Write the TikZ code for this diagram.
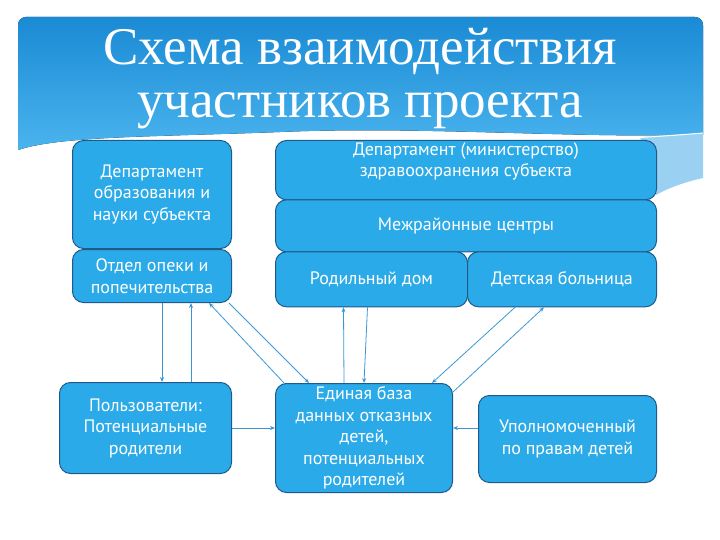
\documentclass[tikz,border=0pt]{standalone}
\usepackage{fontspec}
\setmainfont{Liberation Serif}
\setsansfont{PT Sans}
\usepackage{tikz}
\usetikzlibrary{arrows.meta, positioning}
\definecolor{boxfill}{HTML}{2AAAE8}
\definecolor{boxline}{HTML}{1F5A8A}
\definecolor{arrline}{HTML}{3B97D3}
\definecolor{bantop}{HTML}{1A8AD4}
\definecolor{banbot}{HTML}{4AB4EE}
\definecolor{swoosh}{HTML}{9AD1F2}

\begin{document}
\begin{tikzpicture}[x=1pt, y=-1pt,
  box/.style={draw=boxline, fill=boxfill, rounded corners=11pt, line width=1pt,
              text=white, font=\sffamily\fontsize{18}{21.5}\selectfont, align=center,
              inner sep=2pt},
  title/.style={text=white, font=\fontsize{53}{55}\selectfont, anchor=base},
  arr/.style={-{Stealth[length=5pt, width=4pt]}, line width=0.8pt, arrline}
]
\useasboundingbox (0,0) rectangle (720,540);
% Banner
\fill[top color=bantop, bottom color=banbot] (18,150) {[rounded corners=8pt] -- (18,17) -- (703,17)}
  -- (703,135) .. controls (560,138) and (420,126) .. (280,132)
  .. controls (150,137) and (60,136) .. (18,150) -- cycle;
\fill[swoosh] (640,137) .. controls (670,135) and (690,134) .. (703,133)
  -- (703,178) .. controls (685,182) and (668,188) .. (656,195) -- cycle;
\draw[white, line width=1pt] (600,140) .. controls (650,137) and (680,135) .. (703,133);
\node[title](t1) at (360,65) {Схема взаимодействия};
\node[title](t2) at (360,118) {участников проекта};
% Left column
\node[box, anchor=north west, minimum width=159, minimum height=108](A) at (72,140)
  {Департамент\\ образования и\\ науки субъекта};
\node[box, below=0pt of A, minimum width=159, minimum height=53](B)
  {Отдел опеки и\\ попечительства};
% Health block
\node[box, anchor=north west, minimum width=381, minimum height=55, text depth=21pt](C) at (275,140)
  {Департамент (министерство)\\ здравоохранения субъекта};
\node[box, below=-1pt of C, minimum width=381, minimum height=52](D)
  {Межрайонные центры};
\node[box, below right=-1pt and 0pt of D.south west, minimum width=192, minimum height=55](E)
  {Родильный дом};
\node[box, right=-1pt of E, minimum width=189, minimum height=55](F)
  {Детская больница};
% Bottom row
\node[box, anchor=north west, minimum width=172, minimum height=91](G) at (59,382)
  {Пользователи:\\ Потенциальные\\ родители};
\node[box, anchor=north west, minimum width=177, minimum height=109](H) at (275,383)
  {Единая база\\ данных отказных\\ детей,\\ потенциальных\\ родителей};
\node[box, anchor=north west, minimum width=178, minimum height=87](I) at (478,395)
  {Уполномоченный\\ по правам детей};
% Arrows
\draw[arr]([xshift=10pt]B.south)--([xshift=10pt]B.south |- G.north);
\draw[arr]([xshift=39pt]B.south |- G.north)--([xshift=39pt]B.south);
\draw[arr]([xshift=-80pt]H.north)--([xshift=57pt]B.south);
\draw[arr]([xshift=77pt]B.south)--([xshift=-55pt]H.north);
\draw[arr]([xshift=-20pt]H.north)--([xshift=-28pt]E.south);
\draw[arr]([xshift=-4pt]E.south)--(H.north);
\draw[arr]([xshift=-47pt]F.south)--([xshift=68pt]H.north);
\draw[arr]([yshift=-9pt]H.north east)--([xshift=-18pt]F.south);
\draw[arr](G.east)--(G.east -| H.west);
\draw[arr](I.west |- G.east)--(H.east |- G.east);
\end{tikzpicture}
\end{document}
